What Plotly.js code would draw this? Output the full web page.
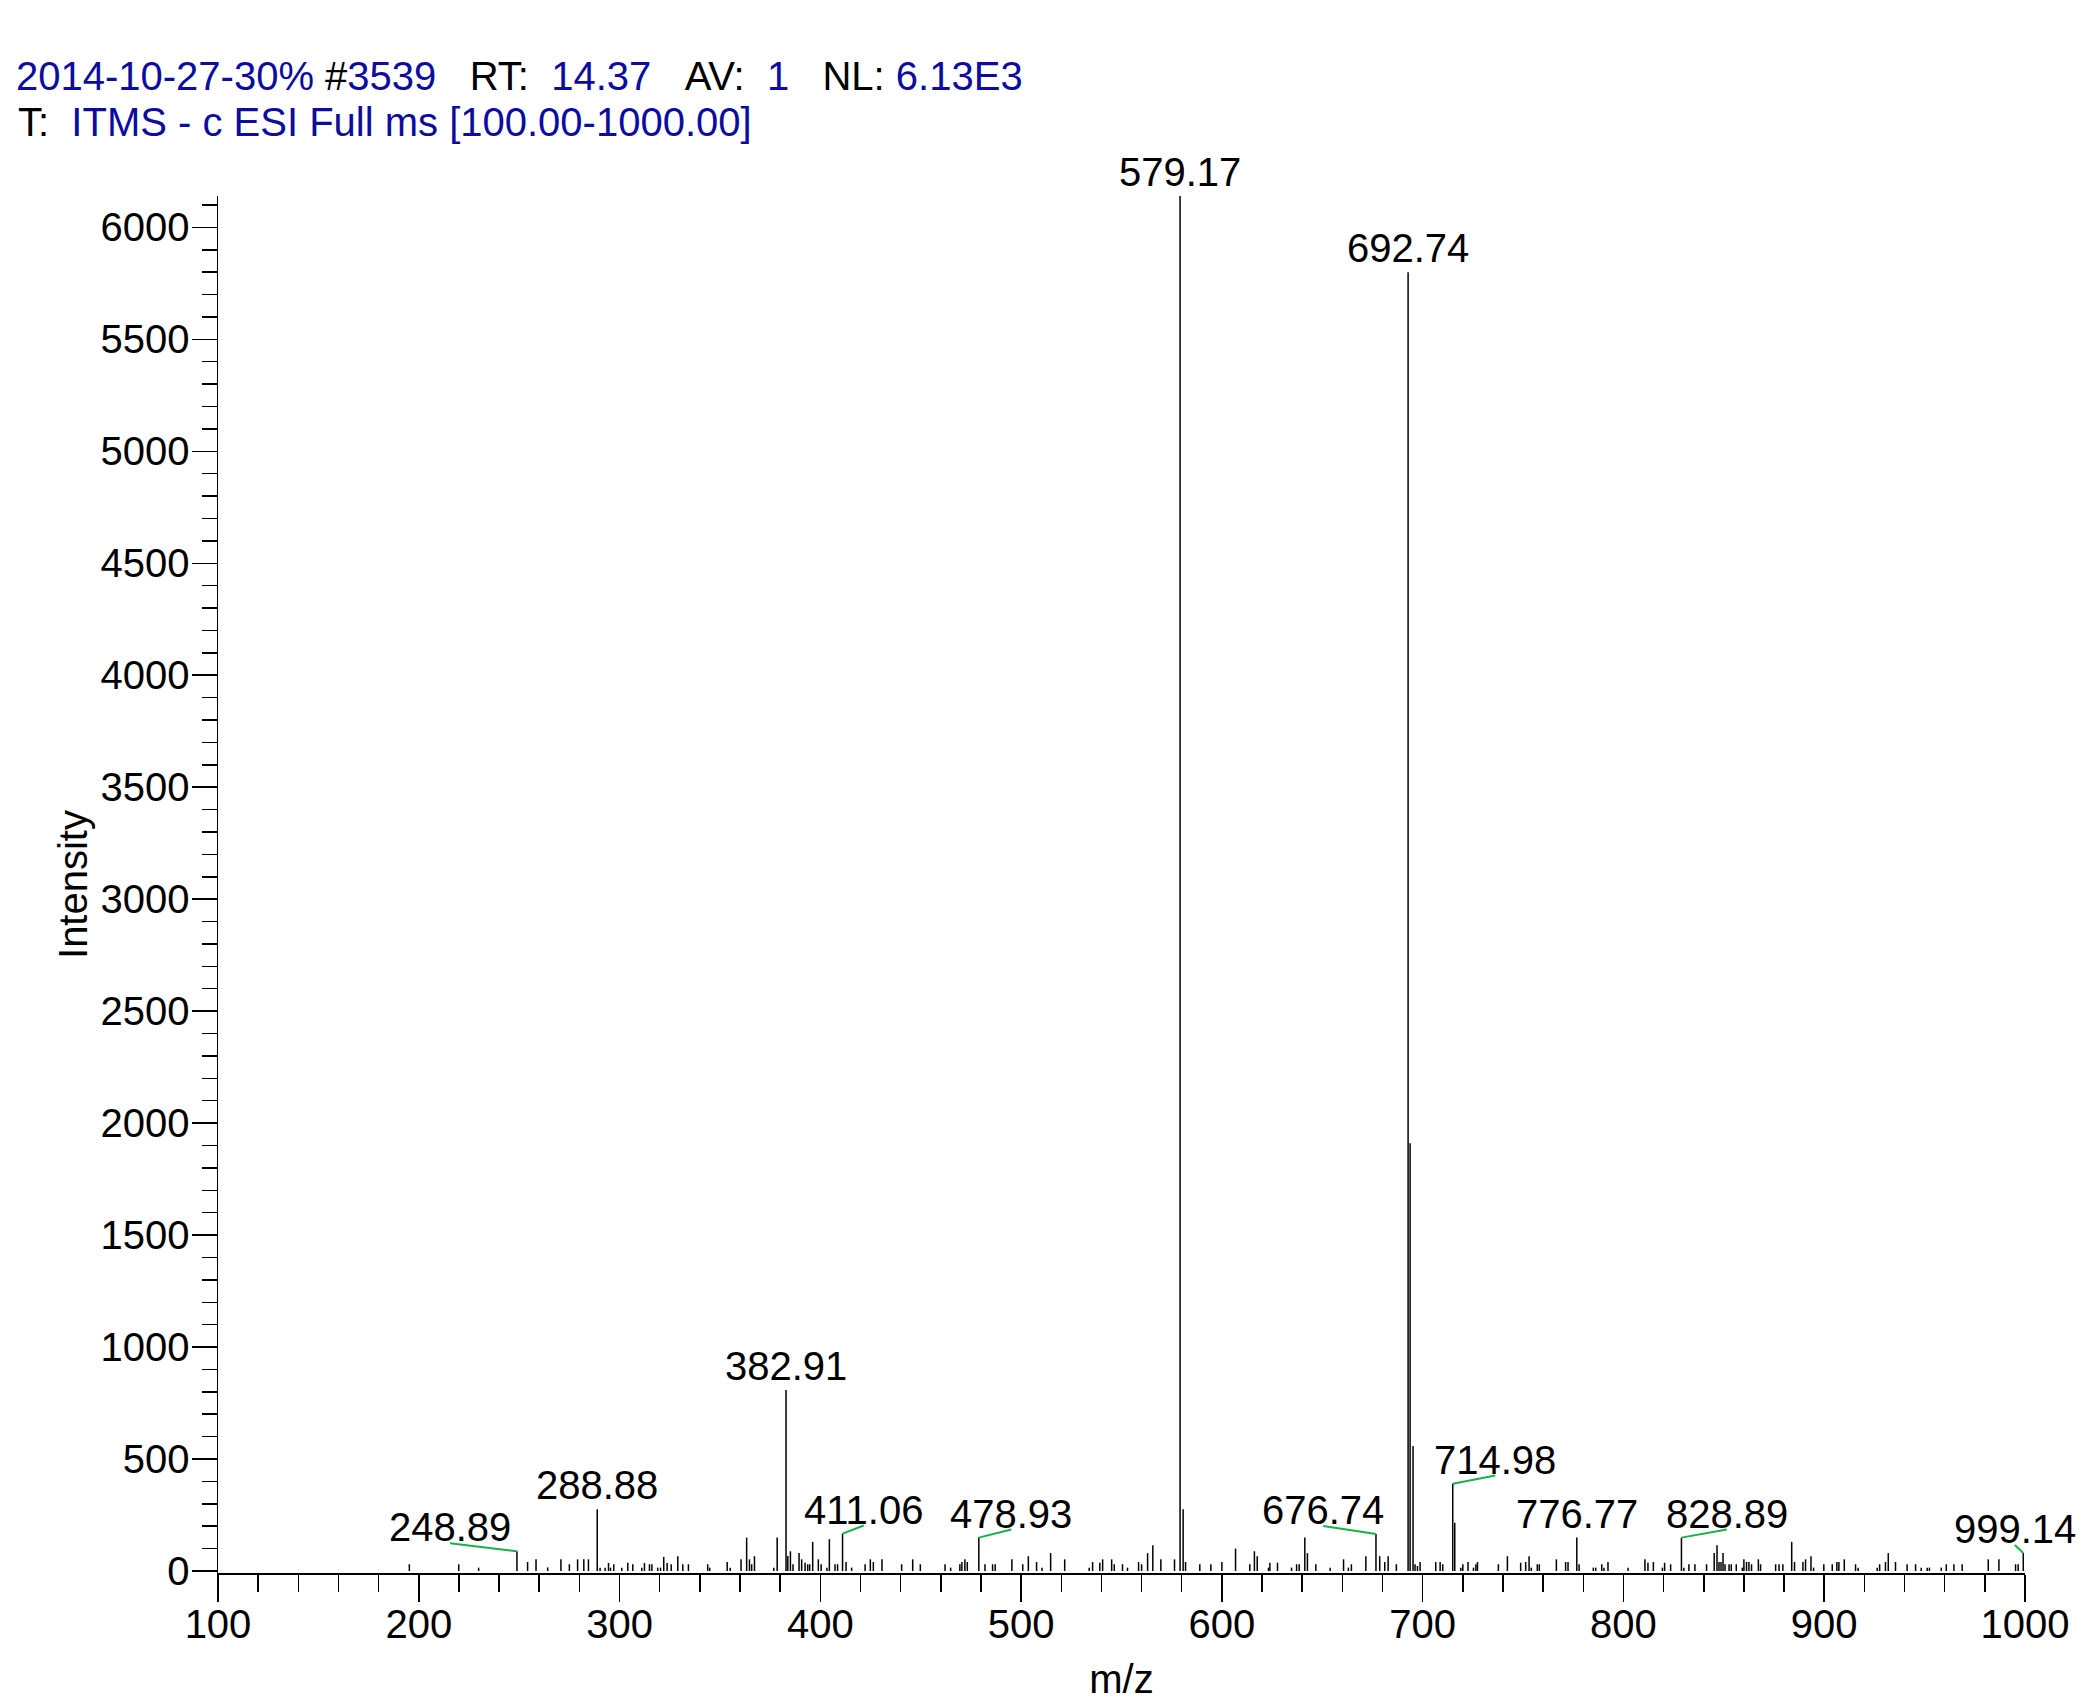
<!DOCTYPE html>
<html>
<head>
<meta charset="utf-8">
<script src="https://cdn.plot.ly/plotly-3.0.1.min.js"></script>
<style>html,body{margin:0;padding:0;background:#fff;}#chart{width:2098px;height:1702px;}</style>
</head>
<body>
<div id="chart"></div>
<script>
// ---- data ----
const mz = [
195.3,219.9,229.8,248.89,254.2,258.4,264.2,270.8,275.0,279.1,
282.2,284.5,288.88,290.3,292.8,294.5,295.5,297.1,301.1,304.1,306.6,311.1,312.4,314.9,316.1,319.0,320.4,322.0,323.7,325.7,329.0,331.5,334.3,343.9,344.9,353.6,355.1,360.5,363.3,364.7,365.8,367.2,376.8,378.5,
382.91,383.8,385.1,386.4,389.4,390.7,392.4,393.7,394.7,396.2,399.0,400.4,403.3,404.5,407.3,408.6,411.06,412.8,415.6,422.3,424.9,426.4,430.7,440.5,446.0,449.8,462.1,
464.9,469.5,470.5,472.0,473.2,478.93,482.0,485.8,487.1,495.4,500.8,503.6,507.7,510.4,514.7,521.7,533.9,535.6,539.2,540.6,545.1,546.4,550.5,553.0,558.5,560.0,563.0,565.6,569.6,576.4,
579.17,580.7,581.9,589.0,594.5,600.0,606.8,613.9,616.2,617.6,623.2,623.9,627.7,634.7,637.2,638.5,641.3,642.6,
646.8,653.9,660.6,663.0,664.5,671.7,676.74,678.6,681.1,682.8,686.9,692.74,693.74,695.2,696.2,697.4,698.7,706.5,708.7,710.0,
714.98,715.98,719.0,720.0,722.6,725.3,726.5,727.3,737.7,742.2,748.8,751.3,753.0,754.1,757.1,758.1,766.6,771.2,772.4,
776.77,777.9,785.0,786.2,789.2,790.3,792.3,802.3,810.7,812.2,814.9,819.4,820.5,823.5,
828.89,830.1,832.6,835.6,841.4,845.2,846.6,847.6,848.6,849.6,850.6,852.6,853.7,856.2,859.2,860.0,861.3,862.5,863.8,867.2,868.3,875.8,877.5,879.4,
883.8,885.2,889.4,890.7,893.4,894.7,899.8,904.0,906.3,907.3,910.0,915.6,916.9,926.4,927.6,930.5,931.9,935.5,941.3,945.5,948.3,951.3,952.4,958.3,960.8,964.6,968.7,981.7,987.0,995.3,996.6,999.14
];
const intensity = [
30,30,15,88,40,52,16,52,30,52,
52,52,276,15,15,36,15,30,15,37,30,15,36,30,30,15,15,63,36,30,66,30,30,30,15,40,15,52,149,52,30,66,15,149,
808,67,88,30,80,52,37,30,30,130,52,30,15,142,30,30,167,40,15,30,52,40,52,30,52,30,30,
15,30,40,52,40,149,30,30,30,52,30,66,40,15,80,52,15,40,37,52,52,30,30,15,40,30,80,115,52,52,
6140,276,40,30,30,40,100,30,88,66,15,37,37,15,30,30,149,80,
30,15,52,15,30,66,165,66,40,66,30,5800,1910,558,30,22,40,40,40,30,
390,215,15,30,40,15,30,40,30,66,37,40,66,15,30,30,52,40,40,
149,30,15,15,30,15,40,15,52,37,40,15,37,30,
149,15,30,30,30,80,115,40,40,80,30,30,30,30,15,52,40,40,30,52,30,30,30,30,
130,40,40,52,66,15,30,30,40,40,52,30,15,15,30,40,80,40,30,30,15,15,15,15,30,30,30,52,52,30,30,80
];
// labelled peaks and the horizontal shift of their label (m/z units, 0 = no leader line)
const labelledMz = [248.89, 288.88, 382.91, 411.06, 478.93, 579.17, 676.74, 692.74, 714.98, 776.77, 828.89, 999.14];
const labelShift = [-33.3, 0, 0, 10.6, 16.2, 0, -26.3, 0, 21.2, 0, 22.6, -4.2];
const xTickVals = [100,200,300,400,500,600,700,800,900,1000];

// ---- build the stick spectrum ----
const sx = [], sy = [];
for (let i = 0; i < mz.length; i++) { sx.push(mz[i], mz[i], null); sy.push(0, intensity[i], null); }

const FONT = 'Liberation Sans, Arial, Helvetica, sans-serif';
const BLUE = '#0C0CA0';
const GREEN = '#17B14B';

const annotations = [];
const shapes = [];
labelledMz.forEach((m, k) => {
  const v = intensity[mz.indexOf(m)];
  const dx = labelShift[k];
  annotations.push({
    x: m + dx, y: v, xref: 'x', yref: 'y', text: m.toFixed(2), showarrow: false,
    xanchor: 'center', yanchor: 'bottom', font: {family: FONT, size: 40, color: '#000'}
  });
  if (dx !== 0) {
    shapes.push({type: 'line', xref: 'x', yref: 'y', x0: m + dx, y0: v + 36, x1: m, y1: v,
      line: {color: GREEN, width: 2}});
  }
});
const sp = '\u00A0\u00A0\u00A0';
const b = t => '<span style="color:' + BLUE + '">' + t + '</span>';
annotations.push({
  xref: 'paper', yref: 'paper', x: -0.1118, y: 1.0534, xanchor: 'left', yanchor: 'middle',
  showarrow: false, text: 'T:\u00A0\u00A0' + b('ITMS - c ESI Full ms [100.00-1000.00]'),
  font: {family: FONT, size: 40, color: '#000'}
});

const trace = {
  x: sx, y: sy, type: 'scatter', mode: 'lines',
  line: {color: '#000', width: 1.5}, hoverinfo: 'skip', showlegend: false
};

const layout = {
  width: 2098, height: 1702,
  margin: {l: 218, r: 73, t: 196, b: 129},
  paper_bgcolor: '#fff', plot_bgcolor: '#fff',
  font: {family: FONT, size: 40, color: '#000'},
  title: {
    text: b('2014-10-27-30%') + ' #' + b('3539') + sp + 'RT:\u00A0\u00A0' + b('14.37') + sp + 'AV:\u00A0\u00A0' + b('1') + sp + 'NL: ' + b('6.13E3'),
    x: 16/2098, xanchor: 'left', xref: 'container',
    y: 1 - 76/1702, yanchor: 'middle', yref: 'container',
    font: {family: FONT, size: 40, color: '#000'}
  },
  xaxis: {
    range: [100, 1000], tickmode: 'array', tickvals: xTickVals, ticktext: xTickVals.map(String),
    ticks: 'outside', ticklen: 27, tickwidth: 1.5, tickcolor: '#000', ticklabelstandoff: -12,
    minor: {dtick: 20, tick0: 100, ticks: 'outside', ticklen: 17, tickwidth: 1.5, tickcolor: '#000', showgrid: false},
    showline: true, linewidth: 1.5, linecolor: '#000', showgrid: false, zeroline: false,
    tickfont: {family: FONT, size: 40, color: '#000'},
    title: {text: 'm/z', font: {family: FONT, size: 40, color: '#000'}, standoff: 20}
  },
  yaxis: {
    range: [-9, 6140], tickmode: 'linear', tick0: 0, dtick: 500,
    ticks: 'outside', ticklen: 25, tickwidth: 1.5, tickcolor: '#000', ticklabelstandoff: -6,
    minor: {dtick: 100, tick0: 0, ticks: 'outside', ticklen: 15, tickwidth: 1.5, tickcolor: '#000', showgrid: false},
    showline: true, linewidth: 1.5, linecolor: '#000', showgrid: false, zeroline: false,
    tickfont: {family: FONT, size: 40, color: '#000'},
    title: {text: 'Intensity', font: {family: FONT, size: 40, color: '#000'}, standoff: 0}
  },
  annotations: annotations,
  shapes: shapes
};

Plotly.newPlot('chart', [trace], layout, {displayModeBar: false, staticPlot: true});
</script>
</body>
</html>
